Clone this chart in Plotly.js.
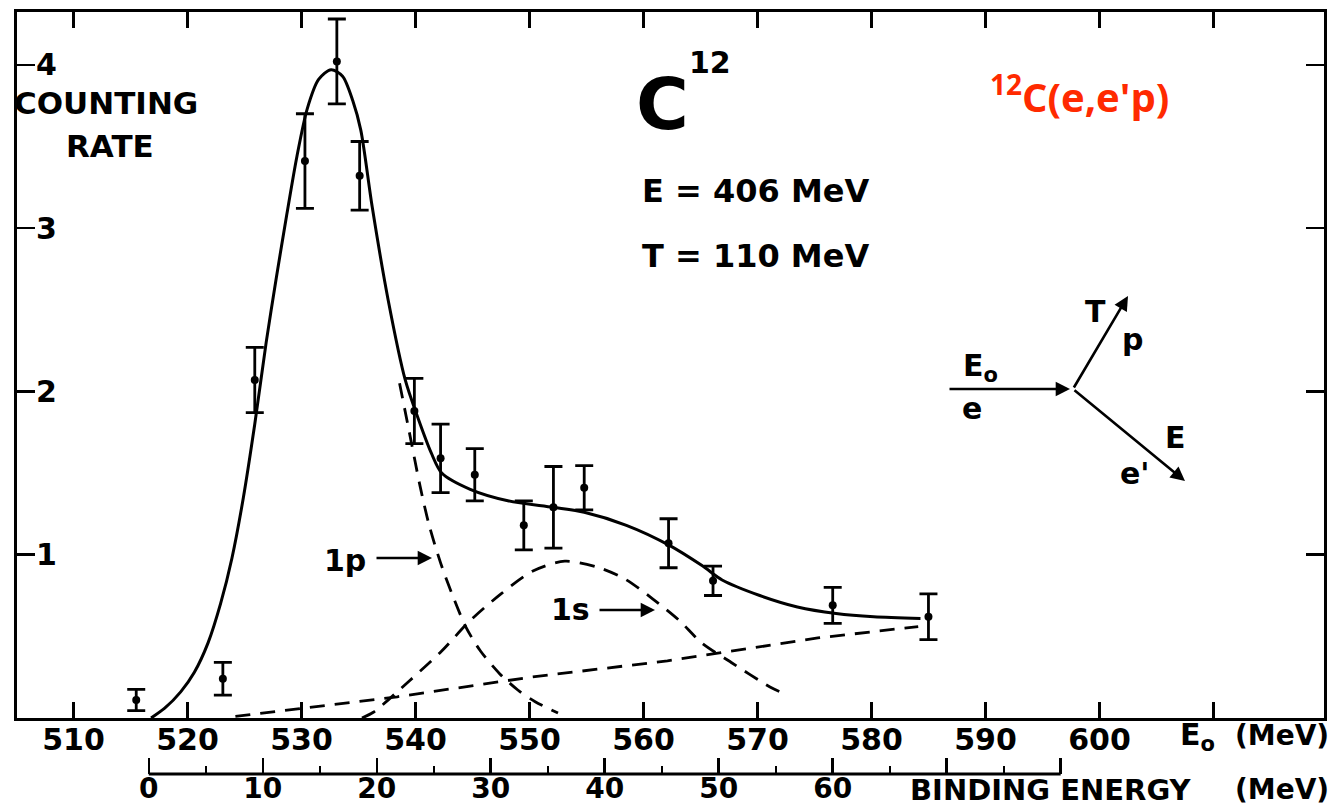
<!DOCTYPE html>
<html>
<head>
<meta charset="utf-8">
<script src="https://cdn.plot.ly/plotly-3.0.1.min.js"></script>
<style>
  html, body { margin: 0; padding: 0; background: #fff; }
  #chart { width: 1339px; height: 812px; }
</style>
</head>
<body>
<div id="chart"></div>
<script>
// Measured counting rate against incident energy E0 (MeV), with statistical errors
const pointE0   = [515.5, 523.1, 525.9, 530.3, 533.1, 535.1, 539.9, 542.2, 545.2, 549.5, 552.1, 554.8, 562.2, 566.1, 576.6, 585.0];
const pointRate = [0.11, 0.24, 2.07, 3.41, 4.02, 3.32, 1.88, 1.59, 1.49, 1.18, 1.29, 1.41, 1.07, 0.84, 0.69, 0.62];
const pointErr  = [0.065, 0.10, 0.20, 0.29, 0.26, 0.21, 0.20, 0.21, 0.16, 0.15, 0.25, 0.135, 0.15, 0.09, 0.11, 0.14];

// Total fitted spectrum
const fitE0   = [516.8, 518.0, 519.4, 520.6, 521.8, 522.9, 523.9, 524.9, 525.9, 526.9, 527.8, 528.7, 529.6, 530.5, 531.5, 532.6, 533.6, 534.5, 535.2, 536.2, 537.6, 539.1, 540.1, 541.4, 542.3, 544.8, 548.1, 552.1, 554.8, 558.5, 562.2, 565.2, 566.9, 570.2, 573.5, 576.9, 580.2, 584.3];
const fitRate = [0.0, 0.06, 0.16, 0.28, 0.46, 0.70, 0.98, 1.35, 1.80, 2.30, 2.70, 3.08, 3.44, 3.73, 3.91, 3.97, 3.93, 3.78, 3.60, 3.13, 2.56, 2.07, 1.86, 1.62, 1.50, 1.40, 1.33, 1.29, 1.26, 1.18, 1.06, 0.93, 0.845, 0.75, 0.68, 0.64, 0.62, 0.61];

// 1p shell contribution (tail beyond the peak)
const p1E0   = [538.6, 539.6, 540.4, 541.2, 542.2, 543.2, 544.4, 545.7, 547.4, 549.0, 550.5, 552.5];
const p1Rate = [2.05, 1.70, 1.42, 1.18, 0.95, 0.76, 0.56, 0.41, 0.27, 0.17, 0.10, 0.03];

// 1s shell contribution
const s1E0   = [535.3, 536.3, 539.5, 542.3, 544.7, 547.5, 550.3, 553.1, 556.1, 558.4, 560.8, 563.1, 565.1, 567.7, 571.1, 572.0];
const s1Rate = [0.0, 0.035, 0.23, 0.41, 0.59, 0.76, 0.90, 0.96, 0.92, 0.85, 0.73, 0.60, 0.46, 0.34, 0.19, 0.16];

// Background under the shells
const bgE0   = [524.2, 538.4, 550.1, 562.1, 575.3, 584.1];
const bgRate = [0.01, 0.13, 0.25, 0.35, 0.49, 0.56];

// Axis ticks
const e0Ticks      = [510, 520, 530, 540, 550, 560, 570, 580, 590, 600];
const e0ExtraTicks = [610];
const rateTicks    = [1, 2, 3, 4];
const bindTicks    = [0, 10, 20, 30, 40, 50, 60, 70, 80];
const bindTickText = ['0', '10', '20', '30', '40', '50', '60', '', ''];
const bindMinor    = [5, 15, 25, 35, 45, 55, 65, 75];
const bindOffset   = 516.6;   // E0 at zero binding energy
const bindEnd      = 80;

const BLACK = '#000';
const FONT = 'DejaVu Sans';

const e0Range = [505.04, 619.7];
const rateRange = [0, 4.323];

// figure pixel -> paper fraction helpers for the lettering
const PL = 17, PR = 1324, PT = 12, PB = 800;
const px = v => (v - PL) / (PR - PL);
const py = v => (PB - v) / (PB - PT);

const dashed = { color: BLACK, width: 2.8, dash: '15px,10px' };

const traces = [
  { x: bgE0, y: bgRate, mode: 'lines', line: dashed, hoverinfo: 'skip' },
  { x: s1E0, y: s1Rate, mode: 'lines', line: Object.assign({ shape: 'spline', smoothing: 0.8 }, dashed), hoverinfo: 'skip' },
  { x: p1E0, y: p1Rate, mode: 'lines', line: Object.assign({ shape: 'spline', smoothing: 0.8 }, dashed), hoverinfo: 'skip' },
  { x: fitE0, y: fitRate, mode: 'lines', line: { color: BLACK, width: 3, shape: 'spline', smoothing: 0.8 }, hoverinfo: 'skip' },
  {
    x: pointE0, y: pointRate, mode: 'markers',
    marker: { color: BLACK, size: 8 },
    error_y: { type: 'data', array: pointErr, visible: true, color: BLACK, thickness: 2.8, width: 9 }
  },
  // binds the binding-energy scale to the plot
  { x: [], y: [], xaxis: 'x2', yaxis: 'y', mode: 'markers', hoverinfo: 'skip' }
];

const tickFont = { family: FONT, size: 30, weight: 'bold', color: BLACK };

function label(text, x, y, size, opts) {
  return Object.assign({
    text: text, xref: 'paper', yref: 'paper', x: px(x), y: py(y),
    showarrow: false, xanchor: 'center', yanchor: 'middle',
    font: { family: FONT, size: size, weight: 'bold', color: BLACK }
  }, opts || {});
}
function arrow(hx, hy, tx, ty) {
  return {
    text: '', xref: 'paper', yref: 'paper', x: px(hx), y: py(hy),
    axref: 'pixel', ayref: 'pixel', ax: tx - hx, ay: ty - hy,
    showarrow: true, arrowhead: 2, arrowsize: 1.1, arrowwidth: 2.6, arrowcolor: BLACK, standoff: 0
  };
}

const annotations = [
  label('COUNTING', 106, 103, 31),
  label('RATE', 110, 146, 31),
  label('C', 662, 104, 72),
  label('12', 710, 62, 30),
  label('E = 406 MeV', 640, 191, 32, { xanchor: 'left' }),
  label('T = 110 MeV', 640, 256, 32, { xanchor: 'left' }),
  label('<sup>12</sup>C(e,e\'p)', 988, 95, 40, { xanchor: 'left', font: { family: 'Open Sans', size: 40, weight: 'bold', color: '#ff2a00' } }),
  label('1p', 345, 560, 30),
  arrow(432, 558, 375, 558),
  label('1s', 570, 609, 30),
  arrow(655, 610, 598, 610),
  // scattering sketch
  arrow(1070, 389, 948, 389),
  arrow(1128, 296, 1073, 389),
  arrow(1185, 481, 1073, 389),
  label('E<sub>o</sub>', 961, 367, 30, { xanchor: 'left' }),
  label('e', 972, 408, 30),
  label('T', 1095, 311, 30),
  label('p', 1132, 339, 30),
  label('E', 1175, 437, 30),
  label('e\'', 1135, 473, 30),
  // axis names
  label('E<sub>o</sub>', 1178, 736, 30, { xanchor: 'left' }),
  label('(MeV)', 1331, 735, 28, { xanchor: 'right' }),
  label('BINDING ENERGY', 908, 790, 29, { xanchor: 'left' }),
  label('(MeV)', 1331, 789, 28, { xanchor: 'right' })
];

const layout = {
  width: 1339, height: 812,
  margin: { l: PL, r: 1339 - PR, t: PT, b: 812 - PB, pad: 0 },
  paper_bgcolor: '#fff', plot_bgcolor: '#fff',
  showlegend: false,
  font: { family: FONT, color: BLACK },
  xaxis: {
    range: e0Range, anchor: 'y', showgrid: false, zeroline: false,
    showline: true, linewidth: 3, linecolor: BLACK, mirror: 'ticks',
    ticks: 'inside', ticklen: 16, tickwidth: 2.5, tickcolor: BLACK,
    tickmode: 'array', tickvals: e0Ticks,
    minor: { tickmode: 'array', tickvals: e0ExtraTicks, ticks: 'inside', ticklen: 16, tickwidth: 2.5, tickcolor: BLACK, showgrid: false },
    tickfont: tickFont, ticklabelstandoff: -7
  },
  yaxis: {
    range: rateRange, domain: [py(718), 1], showgrid: false, zeroline: false,
    showline: true, linewidth: 3, linecolor: BLACK, mirror: 'ticks',
    ticks: 'inside', ticklen: 18, tickwidth: 2.5, tickcolor: BLACK,
    tickmode: 'array', tickvals: rateTicks, ticklabelposition: 'inside',
    tickfont: tickFont, ticklabelstandoff: 4
  },
  xaxis2: {
    range: [e0Range[0] - bindOffset, e0Range[1] - bindOffset],
    overlaying: 'x', anchor: 'free', position: py(774), side: 'bottom',
    showgrid: false, zeroline: false, showline: false,
    ticks: 'inside', ticklen: 16, tickwidth: 2.5, tickcolor: BLACK,
    tickmode: 'array', tickvals: bindTicks, ticktext: bindTickText,
    minor: { tickmode: 'array', tickvals: bindMinor, ticks: 'inside', ticklen: 8, tickwidth: 2, tickcolor: BLACK, showgrid: false },
    tickfont: { family: FONT, size: 28, weight: 'bold', color: BLACK }, ticklabelstandoff: -5
  },
  shapes: [
    { type: 'line', xref: 'x2', yref: 'paper', x0: 0, x1: bindEnd, y0: py(774), y1: py(774), line: { color: BLACK, width: 3 } }
  ],
  annotations: annotations
};

Plotly.newPlot('chart', traces, layout, { staticPlot: true, displayModeBar: false });
</script>
</body>
</html>
